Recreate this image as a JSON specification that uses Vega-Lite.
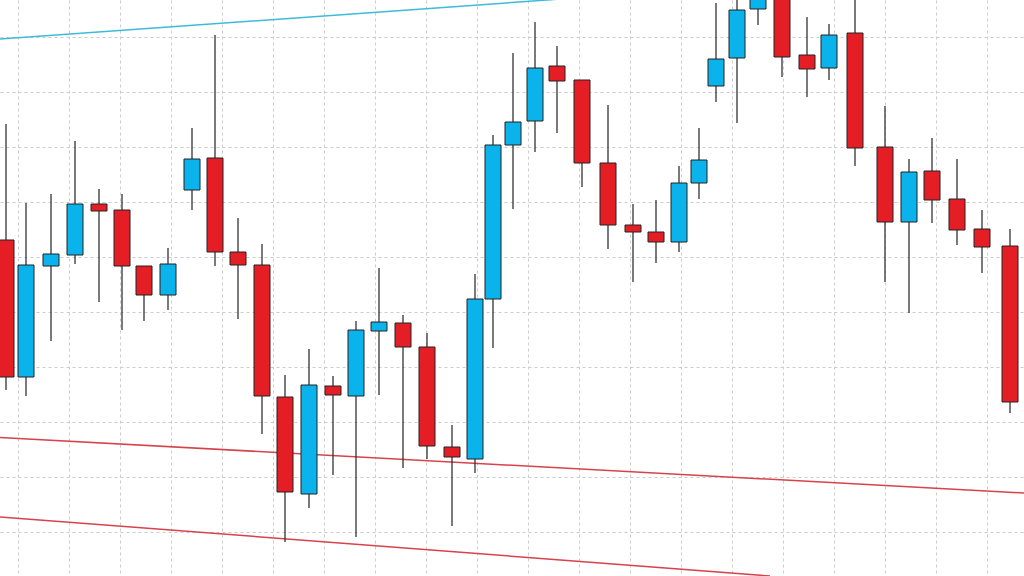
{
  "$schema": "https://vega.github.io/schema/vega-lite/v6.json",
  "width": 1024,
  "height": 576,
  "autosize": "none",
  "padding": 0,
  "background": "#ffffff",
  "config": {"view": {"stroke": null}, "scale": {"continuousPadding": 0}},
  "datasets": {
    "candles": [
      {"t": 6, "open": 336, "close": 199, "high": 452, "low": 186},
      {"t": 26, "open": 199, "close": 311, "high": 373, "low": 180},
      {"t": 51, "open": 310, "close": 322, "high": 382, "low": 235},
      {"t": 75, "open": 321, "close": 372, "high": 435, "low": 312},
      {"t": 99, "open": 372, "close": 365, "high": 387, "low": 274},
      {"t": 122, "open": 366, "close": 310, "high": 382, "low": 246},
      {"t": 144, "open": 310, "close": 281, "high": 310, "low": 255},
      {"t": 168, "open": 281, "close": 312, "high": 328, "low": 266},
      {"t": 192, "open": 386, "close": 417, "high": 448, "low": 366},
      {"t": 215, "open": 418, "close": 324, "high": 541, "low": 310},
      {"t": 238, "open": 324, "close": 311, "high": 358, "low": 257},
      {"t": 262, "open": 311, "close": 180, "high": 332, "low": 142},
      {"t": 285, "open": 179, "close": 84, "high": 201, "low": 34},
      {"t": 309, "open": 82, "close": 191, "high": 227, "low": 68},
      {"t": 333, "open": 190, "close": 181, "high": 200, "low": 101},
      {"t": 356, "open": 180, "close": 246, "high": 255, "low": 39},
      {"t": 379, "open": 245, "close": 254, "high": 308, "low": 181},
      {"t": 403, "open": 253, "close": 229, "high": 261, "low": 108},
      {"t": 427, "open": 229, "close": 130, "high": 243, "low": 117},
      {"t": 452, "open": 129, "close": 119, "high": 151, "low": 50},
      {"t": 475, "open": 117, "close": 277, "high": 302, "low": 103},
      {"t": 493, "open": 277, "close": 431, "high": 441, "low": 228},
      {"t": 513, "open": 431, "close": 454, "high": 523, "low": 367},
      {"t": 535, "open": 455, "close": 508, "high": 554, "low": 424},
      {"t": 557, "open": 510, "close": 495, "high": 530, "low": 443},
      {"t": 582, "open": 496, "close": 413, "high": 496, "low": 389},
      {"t": 608, "open": 413, "close": 351, "high": 471, "low": 327},
      {"t": 633, "open": 351, "close": 344, "high": 372, "low": 294},
      {"t": 656, "open": 344, "close": 334, "high": 376, "low": 313},
      {"t": 679, "open": 334, "close": 393, "high": 410, "low": 324},
      {"t": 699, "open": 393, "close": 416, "high": 448, "low": 377},
      {"t": 716, "open": 490, "close": 517, "high": 573, "low": 474},
      {"t": 737, "open": 518, "close": 566, "high": 586, "low": 453},
      {"t": 758, "open": 567, "close": 586, "high": 606, "low": 551},
      {"t": 782, "open": 586, "close": 519, "high": 606, "low": 499},
      {"t": 807, "open": 521, "close": 507, "high": 559, "low": 479},
      {"t": 829, "open": 508, "close": 541, "high": 552, "low": 496},
      {"t": 855, "open": 543, "close": 428, "high": 581, "low": 410},
      {"t": 885, "open": 429, "close": 354, "high": 470, "low": 294},
      {"t": 909, "open": 354, "close": 404, "high": 417, "low": 263},
      {"t": 932, "open": 405, "close": 376, "high": 438, "low": 353},
      {"t": 957, "open": 377, "close": 346, "high": 417, "low": 331},
      {"t": 982, "open": 347, "close": 329, "high": 366, "low": 303},
      {"t": 1010, "open": 330, "close": 174, "high": 347, "low": 163}
    ],
    "trend": [
      {"line": "resistance", "t": 0, "price": 537},
      {"line": "resistance", "t": 575, "price": 578},
      {"line": "support upper", "t": 0, "price": 138.5},
      {"line": "support upper", "t": 1024, "price": 83},
      {"line": "support lower", "t": 0, "price": 59},
      {"line": "support lower", "t": 770, "price": 0}
    ]
  },
  "layer": [
    {
      "data": {"name": "trend"},
      "mark": {"type": "line", "strokeWidth": 1.5, "clip": true},
      "encoding": {
        "x": {
          "field": "t", "type": "quantitative",
          "scale": {"domain": [0, 1024], "nice": false, "zero": false, "padding": 0},
          "axis": {"labels": false, "ticks": false, "domain": false, "title": null,
                   "values": [18, 69, 120, 171, 222, 273, 324, 375, 426, 477, 528, 579, 630, 681, 732, 783, 834, 885, 936, 987],
                   "gridColor": "#cccccc", "gridDash": [3, 3], "gridWidth": 1}
        },
        "y": {
          "field": "price", "type": "quantitative",
          "scale": {"domain": [0, 576], "nice": false, "zero": false, "padding": 0},
          "axis": {"labels": false, "ticks": false, "domain": false, "title": null,
                   "values": [44, 99, 154, 209, 264, 319, 374, 429, 484, 539],
                   "gridColor": "#cccccc", "gridDash": [3, 3], "gridWidth": 1}
        },
        "detail": {"field": "line"},
        "color": {
          "field": "line", "type": "nominal",
          "scale": {"domain": ["resistance", "support upper", "support lower"], "range": ["#3dbbd9", "#d6434c", "#d6434c"]},
          "legend": null
        }
      }
    },
    {
      "data": {"name": "candles"},
      "mark": {"type": "rule", "color": "#333333", "strokeWidth": 1.3, "clip": true},
      "encoding": {
        "x": {"field": "t", "type": "quantitative"},
        "y": {"field": "low", "type": "quantitative"},
        "y2": {"field": "high"}
      }
    },
    {
      "data": {"name": "candles"},
      "mark": {"type": "bar", "width": 16, "stroke": "#222222", "strokeWidth": 1, "clip": true},
      "encoding": {
        "x": {"field": "t", "type": "quantitative"},
        "y": {"field": "open", "type": "quantitative"},
        "y2": {"field": "close"},
        "color": {
          "condition": {"test": "datum.close > datum.open", "value": "#0ab3ec"},
          "value": "#e51e26"
        }
      }
    }
  ]
}
